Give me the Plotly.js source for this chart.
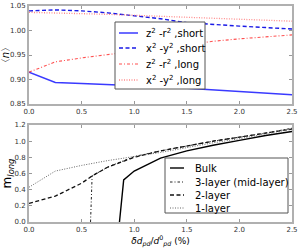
<!DOCTYPE html>
<html><head><meta charset="utf-8">
<script src="https://cdn.plot.ly/plotly-3.0.1.min.js"></script>
<style>body{margin:0;background:#fff}#c{width:299px;height:249px}</style>
</head><body><div id="c"></div>
<script>
// ---- top panel data: <n> vs strain ----
const strainTop = [0, 0.25, 0.5, 0.75, 1.0, 1.25, 1.5, 1.75, 2.0, 2.25, 2.5];
const zShort = [0.915, 0.894, 0.892, 0.890, 0.888, 0.885, 0.882, 0.879, 0.876, 0.872, 0.869];
const xShort = [1.040, 1.042, 1.040, 1.036, 1.030, 1.024, 1.016, 1.012, 1.009, 1.006, 1.003];
const zLong  = [0.915, 0.936, 0.944, 0.951, 0.958, 0.965, 0.972, 0.978, 0.983, 0.987, 0.991];
const xLong  = [1.037, 1.036, 1.035, 1.033, 1.031, 1.029, 1.027, 1.025, 1.023, 1.021, 1.019];
const topNames = ["z<sup>2</sup> -r<sup>2</sup> ,short", "x<sup>2</sup> -y<sup>2</sup> ,short",
                  "z<sup>2</sup> -r<sup>2</sup> ,long", "x<sup>2</sup> -y<sup>2</sup> ,long"];

// ---- bottom panel data: m_long vs strain ----
const bulkX = [0.86, 0.9, 1.0, 1.25, 1.5, 1.75, 2.0, 2.25, 2.5];
const bulkY = [0.0, 0.52, 0.63, 0.79, 0.88, 0.95, 1.01, 1.07, 1.12];
const tri3X = [0.585, 0.6, 0.75, 1.0, 1.25, 1.5, 1.75, 2.0, 2.25, 2.5];
const tri3Y = [0.0, 0.57, 0.68, 0.81, 0.88, 0.94, 1.00, 1.05, 1.10, 1.16];
const bi2X = [0, 0.25, 0.5, 0.6, 0.75, 1.0, 1.25, 1.5, 1.75, 2.0, 2.25, 2.5];
const bi2Y = [0.23, 0.32, 0.48, 0.57, 0.68, 0.80, 0.88, 0.94, 1.00, 1.05, 1.10, 1.15];
const mono1X = [0, 0.25, 0.5, 0.75, 1.0, 1.25, 1.5, 1.75, 2.0, 2.25, 2.5];
const mono1Y = [0.43, 0.63, 0.70, 0.76, 0.81, 0.86, 0.92, 0.98, 1.03, 1.09, 1.15];
const bottomNames = ["Bulk", "3-layer (mid-layer)", "2-layer", "1-layer"];

// styles
const topStyles = [
  {color: "#3a3aff", width: 1.5, dash: "solid"},
  {color: "#1a1ae6", width: 1.4, dash: "4px,2.5px"},
  {color: "rgba(255,50,50,0.85)", width: 1.1, dash: "3px,2px,1px,2px"},
  {color: "rgba(255,110,110,0.8)", width: 1.3, dash: "1px,1.5px"}
];
const botStyles = [
  {color: "#000", width: 1.4, dash: "solid"},
  {color: "#222", width: 1.0, dash: "2.5px,2px,1px,2px"},
  {color: "#111", width: 1.3, dash: "4px,2.5px"},
  {color: "#666", width: 1.0, dash: "1px,1.5px"}
];

const topSeries = [zShort, xShort, zLong, xLong];
const traces = [];
topSeries.forEach((ys, i) => traces.push({
  x: strainTop, y: ys, type: "scatter", mode: "lines", name: topNames[i],
  line: topStyles[i], xaxis: "x", yaxis: "y", showlegend: false
}));
const botX = [bulkX, tri3X, bi2X, mono1X];
const botY = [bulkY, tri3Y, bi2Y, mono1Y];
botX.forEach((xs, i) => traces.push({
  x: xs, y: botY[i], type: "scatter", mode: "lines", name: bottomNames[i],
  line: botStyles[i], xaxis: "x2", yaxis: "y2", showlegend: false
}));

// pixel -> paper helpers (plot area: x 29..292, y 6..222)
const L = 29, R = 7, T = 6, B = 27, W = 299, H = 249;
const pw = W - L - R, ph = H - T - B;
const px = v => (v - L) / pw;
const py = v => (H - B - v) / ph;

const shapes = [], annotations = [];
function legend(box, items, names, styles, fsize, sx0, sx1, tx) {
  shapes.push({type: "rect", xref: "paper", yref: "paper",
    x0: px(box[0]), x1: px(box[1]), y0: py(box[2]), y1: py(box[3]),
    line: {color: "#555", width: 1}, fillcolor: "#fff", layer: "above"});
  items.forEach((y, i) => {
    shapes.push({type: "line", xref: "paper", yref: "paper",
      x0: px(sx0), x1: px(sx1), y0: py(y), y1: py(y),
      line: {color: styles[i].color, width: styles[i].width, dash: styles[i].dash}, layer: "above"});
    annotations.push({xref: "paper", yref: "paper", x: px(tx), y: py(y),
      xanchor: "left", yanchor: "middle", showarrow: false, text: names[i],
      font: {size: fsize, color: "#000", family: "DejaVu Sans"}});
  });
}
legend([115, 205, 22, 89], [33, 48, 64, 80], topNames, topStyles, 10, 119, 138, 144);
legend([165, 288, 158, 213], [168, 182, 195, 208], bottomNames, botStyles, 10, 170, 184, 193);

const axCommon = {
  showline: true, linecolor: "#b0b0b0", linewidth: 2, mirror: "ticks",
  ticks: "inside", ticklen: 3, tickwidth: 1, tickcolor: "#999",
  showgrid: false, zeroline: false,
  tickfont: {size: 7, color: "#333", family: "DejaVu Sans"}
};

const layout = {
  width: W, height: H, margin: {l: L, r: R, t: T, b: B},
  paper_bgcolor: "#fff", plot_bgcolor: "#fff",
  font: {family: "DejaVu Sans"},
  xaxis: Object.assign({}, axCommon, {domain: [0, 1], range: [0, 2.5], dtick: 0.5, tickformat: ".1f", anchor: "y"}),
  yaxis: Object.assign({}, axCommon, {domain: [py(104), 1], range: [0.85, 1.05], dtick: 0.05, tickformat: ".2f", anchor: "x",
    title: {text: "〈<i>n</i>〉", font: {size: 10, color: "#000"}, standoff: 2}}),
  xaxis2: Object.assign({}, axCommon, {domain: [0, 1], range: [0, 2.5], dtick: 0.5, tickformat: ".1f", anchor: "y2",
    title: {text: "<i>δd</i><sub><i>pd</i></sub>/<i>d</i><sup>0</sup><sub><i>pd</i></sub> (%)", font: {size: 9, color: "#000"}, standoff: 2}}),
  yaxis2: Object.assign({}, axCommon, {domain: [0, py(125)], range: [0, 1.2], dtick: 0.2, tickformat: ".1f", anchor: "x2",
    title: {text: "m<sub><i>long</i></sub>", font: {size: 12, color: "#000"}, standoff: 2}}),
  shapes: shapes, annotations: annotations, showlegend: false
};

Plotly.newPlot("c", traces, layout, {staticPlot: true, displayModeBar: false});
</script>
</body></html>
